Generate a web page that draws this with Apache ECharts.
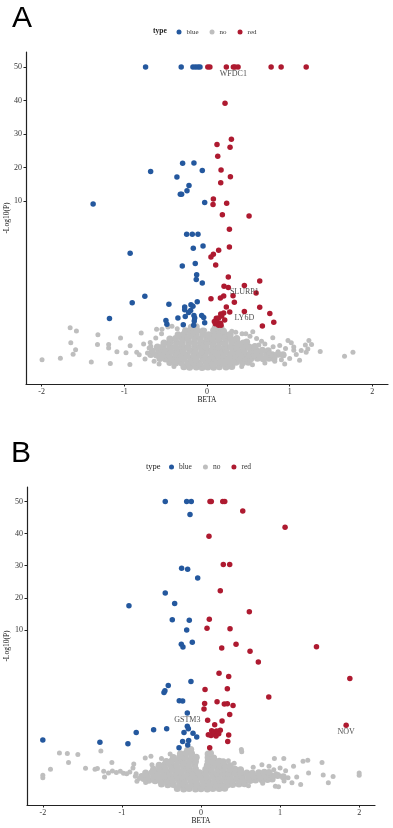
<!DOCTYPE html>
<html><head><meta charset="utf-8">
<script src="https://cdn.jsdelivr.net/npm/echarts@6/dist/echarts.min.js"></script>
<style>html,body{margin:0;padding:0;background:#fff}#c{width:393px;height:828px}</style>
</head><body><div id="c"></div>
<script>
// ---------- tick labels / categories ----------
const xTicks = [-2, -1, 0, 1, 2];
const yTicks = [10, 20, 30, 40, 50];          // -log10(P) tick labels
const legendNames = ['blue', 'no', 'red'];

// ---------- Panel A data: [BETA, -log10(P)] ----------
const aBlue = [[-0.743,50],[-0.312,50],[-0.17,50],[-0.14,50],[-0.11,50],[-0.085,50],
 [-0.295,21.3],[-0.158,21.4],[-0.682,18.9],[-0.057,19.2],[-0.364,17.2],[-0.218,14.7],[-0.242,13.1],
 [-0.323,12.1],[-0.307,12.1],[-0.028,9.92],[-1.378,9.84],[-0.246,8.03],[-0.178,8.03],[-0.109,8.03],
 [-0.166,7.2],[-0.048,7.33],[-0.93,6.9],[-0.299,6.14],[-0.142,6.28],[-0.125,5.62],[-0.13,5.33],
 [-0.057,5.12],[-0.752,4.33],[-0.905,3.95],[-1.18,3.01],[-0.461,3.85],[-0.27,3.69],[-0.27,3.53],
 [-0.194,3.83],[-0.17,3.73],[-0.118,4.01],[-0.352,3.03],[-0.263,3.13],[-0.158,3.19],[-0.149,3.03],
 [-0.064,3.18],[-0.04,3.07],[-0.497,2.88],[-0.485,2.67],[-0.287,2.64],[-0.161,2.6],[-0.154,2.85],
 [-0.028,2.76],[-0.222,3.37],[-0.198,3.49]];
const aRed = [[0.01,50],[0.035,50],[0.234,50],[0.319,50],[0.339,50],[0.376,50],[0.776,50],[0.897,50],[1.2,50],
 [0.218,39.2],[0.295,28.5],[0.121,26.9],[0.279,26.1],[0.13,23.4],[0.17,19.3],[0.283,17.3],[0.166,15.5],
 [0.077,10.7],[0.073,9.8],[0.238,9.88],[0.186,9.2],[0.509,9.12],[0.271,8.33],[0.271,7.27],[0.141,7.07],
 [0.077,6.84],[0.048,6.68],[0.105,6.2],[0.258,5.48],[0.206,4.93],[0.258,4.85],[0.452,4.97],[0.638,5.24],
 [0.315,4.37],[0.202,4.35],[0.162,4.23],[0.048,4.19],[0.331,3.97],[0.594,4.52],[0.234,3.69],[0.452,3.43],
 [0.638,3.67],[0.76,3.3],[0.67,2.56],[0.808,2.79],[0.166,3.27],[0.202,3.33],[0.113,3.02],[0.141,3.03],
 [0.178,3.15],[0.214,2.91],[0.089,2.82],[0.125,2.79],[0.101,2.7],[0.164,2.73],[0.275,3.39],[0.14,2.6],[0.17,2.6]];
const aNo = [[-1.996,0.55],[-1.774,0.63],[-1.656,2.46],[-1.58,2.26],[-1.648,1.56],[-1.59,1.15],[-1.62,0.87],
 [-1.32,2.04],[-1.325,1.46],[-1.19,1.46],[-1.19,1.24],[-1.09,1.03],[-1.4,0.41],[-1.17,0.33],[-1.046,1.84],
 [-0.93,1.38],[-0.933,0.27],[-0.796,2.14],[-0.767,1.48],[-0.687,1.58],[-0.98,0.97],[-0.85,0.99],[-0.82,0.85],
 [-0.75,0.59],[-0.61,2.36],[-0.545,2.36],[-0.473,2.5],[-0.424,2.54],
 [1.766,0.99],[1.664,0.75],[1.37,1.04],[1.233,1.7],[1.265,1.46],[1.19,1.42],[1.22,1.18],[1.2,1.0],
 [0.98,1.7],[1.02,1.56],[1.05,1.12],[0.796,1.86],[0.627,1.42],[0.94,0.29],[0.348,2.18],[0.424,2.1],
 [0.554,2.22],[0.47,2.1],
 [0.75,0.95],[0.82,0.72],[0.9,0.55],[0.86,1.02],[0.93,0.82],[1.0,0.62],[1.08,0.86],[1.12,0.52],[0.95,1.22],
 [0.8,1.32],[0.7,1.48],[0.88,1.4],[1.05,1.3],[1.14,1.1],[0.66,1.65],[0.6,1.82],[0.52,1.95],[-0.62,1.85],
 [-0.68,1.35],[-0.72,0.95],[-0.64,0.45],[-0.58,0.3],[-0.4,0.15],[0.42,0.15],[0.55,0.25],[0.7,0.35],
 [0.82,0.45],[-0.7,1.25],[-0.55,2.1],[-0.36,2.4],[0.3,2.25],[0.18,2.48],[-0.03,2.3]];
const aNoCore = [[-0.28,0.13],[-0.21,0.1],[-0.13,0.12],[-0.06,0.09],[0.01,0.11],[0.08,0.1],[0.15,0.13],[0.23,0.12],[0.3,0.15],
 [-0.45,0.38],[-0.38,0.35],[-0.31,0.37],[-0.23,0.34],[-0.16,0.36],[-0.09,0.33],[-0.01,0.37],[0.06,0.35],[0.13,0.38],[0.21,0.34],[0.28,0.36],[0.35,0.39],[0.43,0.37],[0.5,0.4],
 [-0.57,0.62],[-0.5,0.59],[-0.42,0.61],[-0.35,0.58],[-0.28,0.6],[-0.2,0.62],[-0.13,0.58],[-0.05,0.61],[0.02,0.59],[0.09,0.62],[0.17,0.6],[0.24,0.58],[0.31,0.61],[0.39,0.59],[0.46,0.62],[0.53,0.6],[0.61,0.63],[0.68,0.61],[0.75,0.64],[0.81,0.62],
 [-0.68,0.86],[-0.61,0.83],[-0.53,0.85],[-0.46,0.82],[-0.38,0.86],[-0.31,0.84],[-0.24,0.82],[-0.16,0.85],[-0.09,0.83],[-0.02,0.86],[0.06,0.84],[0.13,0.82],[0.2,0.85],[0.28,0.83],[0.35,0.86],[0.42,0.84],[0.5,0.82],[0.57,0.85],[0.64,0.83],[0.72,0.86],[0.79,0.84],[0.86,0.87],[0.92,0.85],
 [-0.66,1.07],[-0.58,1.1],[-0.51,1.08],[-0.44,1.06],[-0.36,1.09],[-0.29,1.07],[-0.21,1.1],[-0.14,1.08],[-0.06,1.06],[0.01,1.09],[0.08,1.07],[0.16,1.1],[0.23,1.08],[0.31,1.06],[0.38,1.09],[0.45,1.07],[0.53,1.1],[0.6,1.08],[0.67,1.11],[0.74,1.09],
 [-0.6,1.31],[-0.53,1.34],[-0.45,1.32],[-0.38,1.3],[-0.3,1.33],[-0.23,1.31],[-0.15,1.34],[-0.08,1.32],[-0.01,1.3],[0.07,1.33],[0.14,1.31],[0.22,1.34],[0.29,1.32],[0.36,1.3],[0.44,1.33],[0.51,1.31],[0.58,1.34],
 [-0.52,1.55],[-0.45,1.58],[-0.37,1.56],[-0.3,1.54],[-0.22,1.57],[-0.15,1.55],[-0.07,1.58],[0.0,1.56],[0.07,1.54],[0.15,1.57],[0.22,1.55],[0.3,1.58],[0.37,1.56],[0.44,1.54],[0.48,1.6],
 [-0.45,1.79],[-0.38,1.82],[-0.3,1.8],[-0.23,1.78],[-0.15,1.81],[-0.08,1.79],[0.0,1.82],[0.07,1.8],[0.14,1.78],[0.22,1.81],[0.29,1.79],[0.36,1.82],
 [-0.35,2.03],[-0.28,2.06],[-0.2,2.04],[-0.13,2.02],[-0.05,2.05],[0.02,2.03],[0.09,2.06],[0.16,2.04],[0.23,2.02],[0.28,2.05],
 [-0.26,2.27],[-0.19,2.3],[-0.12,2.28],[-0.05,2.26],[0.08,2.29],[0.15,2.27],[0.2,2.25],
 [-0.19,2.49],[-0.13,2.52],[0.1,2.45]];
const aGenes = [['WFDC1',0.319,50],['SLURP1',0.452,4.97],['LY6D',0.452,3.43]];

// ---------- Panel B data: [BETA, -log10(P)] ----------
const bBlue = [[-0.452,50],[-0.181,50],[-0.123,50],[-0.139,45.9],[-0.245,29.2],[-0.169,28.9],[-0.042,26.2],
 [-0.452,21.5],[-0.333,18.2],[-0.911,17.5],[-0.363,13.2],[-0.148,13.0],[-0.181,10.0],[-0.11,9.24],
 [-0.249,9.11],[-0.228,8.93],[-0.414,6.54],[-0.456,6.21],[-0.468,6.11],[-0.127,6.79],[-0.275,5.59],
 [-0.232,5.57],[-0.173,4.83],[-0.173,4.0],[-0.16,3.85],[-0.434,3.85],[-0.599,3.79],[-0.819,3.62],
 [-0.215,3.62],[-0.101,3.56],[-0.054,3.34],[-0.232,3.06],[-0.156,3.12],[-0.278,2.67],[-0.168,2.84],
 [-0.924,2.92],[-1.278,3.0],[-2.0,3.15]];
const bRed = [[0.114,50],[0.13,50],[0.275,50],[0.3,50],[0.528,47.0],[1.063,42.0],[0.101,39.2],[0.282,30.4],
 [0.363,30.4],[0.244,22.2],[0.611,15.7],[0.105,13.3],[0.076,10.5],[0.367,10.4],[0.262,8.88],[0.443,9.11],
 [0.62,8.68],[1.46,8.96],[0.725,8.01],[0.228,7.31],[0.35,7.1],[1.882,6.98],[0.857,5.82],[0.051,6.29],
 [0.333,6.34],[0.203,5.53],[0.295,5.39],[0.333,5.4],[0.405,5.3],[0.046,5.42],[0.038,5.08],[0.363,4.74],
 [0.084,4.37],[0.266,4.33],[0.173,4.1],[0.135,3.73],[0.165,3.65],[0.198,3.71],[0.244,3.75],[0.093,3.48],
 [0.127,3.42],[0.16,3.52],[0.19,3.4],[0.224,3.54],[0.35,3.46],[0.338,3.06],[0.11,2.67],[1.835,4.06]];
const bNo = [[-2.0,0.95],[-2.0,0.79],[-1.903,1.32],[-1.79,2.34],[-1.69,2.3],[-1.557,2.24],[-1.675,1.74],
 [-1.46,1.39],[-1.34,1.32],[-1.31,1.37],[-1.266,2.47],[-1.127,1.74],[-1.22,0.85],[-1.23,1.2],[-1.17,1.1],
 [-1.12,1.22],[-1.07,1.12],[-1.02,1.2],[-0.98,1.08],[-0.85,1.66],[-0.86,1.41],[-0.94,1.04],[-0.83,0.89],
 [-0.81,0.58],[-0.73,0.68],[-0.705,2.03],[-0.633,2.13],[-0.5,2.0],[-0.39,2.28],[-0.9,1.15],[-0.82,1.05],
 [-0.78,0.75],[-0.7,0.5],
 [0.51,2.55],[0.515,2.42],[0.346,1.86],[0.928,1.99],[1.047,1.99],[1.29,1.82],[1.35,1.88],[1.53,1.74],
 [2.0,1.1],[2.0,0.95],[1.67,0.87],[1.545,0.97],[1.61,0.48],[1.36,1.1],[1.21,0.85],[1.26,0.37],[1.15,0.48],
 [0.94,0.27],[0.98,0.23],[0.77,1.61],[0.86,1.51],[0.92,1.3],[1.0,1.41],[1.07,1.24],[1.17,1.51],
 [0.95,1.05],[1.1,0.8],[1.05,0.6],[0.78,0.45],[0.6,0.3],[0.66,1.45],[0.42,1.7],[-0.62,1.6]];
const bNoCore = [[-0.3,0.13],[-0.22,0.1],[-0.15,0.12],[-0.07,0.09],[0.0,0.11],[0.08,0.1],[0.15,0.13],[0.23,0.12],[0.3,0.14],
 [-0.5,0.4],[-0.42,0.36],[-0.35,0.38],[-0.27,0.35],[-0.2,0.37],[-0.12,0.34],[-0.05,0.38],[0.03,0.36],[0.1,0.39],[0.18,0.35],[0.25,0.37],[0.33,0.34],[0.4,0.38],[0.48,0.4],[0.55,0.42],
 [-0.66,0.64],[-0.58,0.61],[-0.51,0.63],[-0.43,0.6],[-0.36,0.62],[-0.28,0.64],[-0.21,0.6],[-0.13,0.63],[-0.06,0.61],[0.02,0.64],[0.09,0.62],[0.17,0.6],[0.24,0.63],[0.32,0.61],[0.39,0.64],[0.47,0.62],[0.54,0.6],[0.62,0.63],[0.69,0.65],[0.77,0.67],[0.84,0.69],[0.9,0.72],
 [-0.75,0.88],[-0.68,0.85],[-0.6,0.87],[-0.53,0.84],[-0.45,0.88],[-0.38,0.86],[-0.3,0.84],[-0.23,0.87],[-0.15,0.85],[-0.08,0.88],[0.0,0.86],[0.07,0.84],[0.15,0.87],[0.22,0.85],[0.3,0.88],[0.37,0.86],[0.45,0.84],[0.52,0.87],[0.6,0.85],[0.67,0.88],[0.75,0.86],[0.82,0.89],[0.9,0.9],[0.97,0.93],[1.04,0.86],
 [-0.7,1.09],[-0.62,1.12],[-0.55,1.1],[-0.47,1.08],[-0.4,1.11],[-0.32,1.09],[-0.25,1.12],[-0.17,1.1],[-0.1,1.08],[-0.02,1.11],[0.05,1.09],[0.13,1.12],[0.2,1.1],[0.28,1.08],[0.35,1.11],[0.43,1.09],[0.5,1.12],[0.58,1.1],[0.65,1.08],[0.73,1.11],[0.8,1.14],[0.86,1.12],
 [-0.6,1.33],[-0.52,1.36],[-0.45,1.34],[-0.37,1.32],[-0.3,1.35],[-0.22,1.33],[-0.15,1.36],[-0.07,1.34],[0.06,1.33],[0.13,1.36],[0.21,1.34],[0.28,1.32],[0.36,1.35],[0.43,1.33],[0.5,1.3],
 [-0.53,1.57],[-0.46,1.6],[-0.38,1.58],[-0.31,1.56],[-0.23,1.59],[-0.16,1.57],[-0.08,1.6],[0.08,1.58],[0.15,1.56],[0.23,1.59],[0.3,1.57],[0.37,1.55],
 [-0.44,1.81],[-0.37,1.84],[-0.29,1.82],[-0.22,1.8],[-0.14,1.83],[-0.07,1.81],[0.09,1.82],[0.16,1.8],[0.23,1.83],[0.28,1.79],
 [-0.35,2.05],[-0.27,2.08],[-0.2,2.06],[-0.12,2.04],[-0.06,2.07],[0.09,2.05],[0.16,2.03],
 [-0.26,2.29],[-0.19,2.32],[-0.12,2.3],[0.09,2.28],[0.12,2.32],
 [-0.17,2.51],[-0.13,2.55]];
const bGenes = [['GSTM3',-0.173,4.83],['NOV',1.835,4.06]];

// ---------- broken -log10(P) scale: 0-10 stretched 5x, linear above ----------
function scaleY(v) { return v <= 10 ? v * 5 : v + 40; }
function unscaleY(t) { return t <= 50 ? t / 5 : t - 40; }
function pts(arr) { return arr.map(p => [p[0], scaleY(p[1])]); }

const SERIF = "'Liberation Serif','DejaVu Serif',serif";
const C_BLUE = '#24589E', C_RED = '#AE1A30', C_GREY = '#BEBEBE';
const yTickPos = yTicks.map(scaleY);

function xAxisCfg(idx, lim) {
  return {
    type: 'value', gridIndex: idx, min: -lim, max: lim,
    name: 'BETA', nameLocation: 'middle', nameGap: 12, nameMoveOverlap: false,
    nameTextStyle: { fontFamily: SERIF, fontSize: 7.5, color: '#111' },
    axisLine: { onZero: false, lineStyle: { color: '#222', width: 1.2 } },
    axisTick: { show: true, length: 2.5, customValues: xTicks, lineStyle: { color: '#222', width: 1 } },
    axisLabel: { customValues: xTicks, margin: 4, fontFamily: SERIF, fontSize: 8, color: '#333' },
    splitLine: { show: false }
  };
}
function yAxisCfg(idx, gap) {
  return {
    type: 'value', gridIndex: idx, min: -4.5, max: 94.5,
    name: '-Log10(P)', nameLocation: 'middle', nameGap: gap, nameMoveOverlap: false,
    nameTextStyle: { fontFamily: SERIF, fontSize: 7.5, color: '#111' },
    axisLine: { show: true, onZero: false, lineStyle: { color: '#222', width: 1.2 } },
    axisTick: { show: true, length: 2.5, customValues: yTickPos, lineStyle: { color: '#222', width: 1 } },
    axisLabel: { customValues: yTickPos, margin: 4, fontFamily: SERIF, fontSize: 8, color: '#333',
                 formatter: v => String(Math.round(unscaleY(v))) },
    splitLine: { show: false }
  };
}
function scatter(name, data, idx, color, size) {
  return { type: 'scatter', name: name, xAxisIndex: idx, yAxisIndex: idx, data: pts(data),
           symbolSize: size, itemStyle: { color: color, opacity: 1 }, silent: true };
}
function geneSeries(genes, idx) {
  return { type: 'scatter', xAxisIndex: idx, yAxisIndex: idx, symbolSize: 1, silent: true,
    itemStyle: { color: 'rgba(0,0,0,0)' },
    data: genes.map(g => ({ name: g[0], value: [g[1], scaleY(g[2])] })),
    label: { show: true, position: 'inside', offset: [0, 6.5], formatter: '{b}',
             fontFamily: SERIF, fontSize: 8, color: '#222' } };
}
function legendCfg(left, top, fs) {
  return { left: left, top: top, padding: 0, itemWidth: 5, itemHeight: 5, itemGap: 11, icon: 'circle',
           selectedMode: false, data: legendNames,
           textStyle: { fontFamily: SERIF, fontSize: fs, color: '#333' } };
}

const chart = echarts.init(document.getElementById('c'), null, { renderer: 'canvas' });
chart.setOption({
  animation: false,
  backgroundColor: '#fff',
  grid: [
    { left: 26, top: 52, width: 362, height: 332, containLabel: false, outerBoundsMode: 'none' },
    { left: 27, top: 487, width: 348, height: 318, containLabel: false, outerBoundsMode: 'none' }
  ],
  xAxis: [xAxisCfg(0, 2.19), xAxisCfg(1, 2.2)],
  yAxis: [yAxisCfg(0, 15), yAxisCfg(1, 16)],
  legend: [legendCfg(176.5, 28.5, 7), legendCfg(169, 463, 7.5)],
  graphic: [
    { type: 'text', left: 12, top: 4, style: { text: 'A', fontFamily: "'Liberation Sans',Arial,sans-serif", fontSize: 30, fill: '#000' } },
    { type: 'text', left: 11, top: 439, style: { text: 'B', fontFamily: "'Liberation Sans',Arial,sans-serif", fontSize: 30, fill: '#000' } },
    { type: 'text', left: 153, top: 27.5, style: { text: 'type', fontFamily: SERIF, fontWeight: 'bold', fontSize: 7.5, fill: '#222' } },
    { type: 'text', left: 146, top: 462, style: { text: 'type', fontFamily: SERIF, fontSize: 8.5, fill: '#222' } }
  ],
  series: [
    scatter('no', aNoCore, 0, C_GREY, 7),
    scatter('no', aNo, 0, C_GREY, 5),
    scatter('blue', aBlue, 0, C_BLUE, 5.5),
    scatter('red', aRed, 0, C_RED, 5.5),
    geneSeries(aGenes, 0),
    scatter('no', bNoCore, 1, C_GREY, 7),
    scatter('no', bNo, 1, C_GREY, 5),
    scatter('blue', bBlue, 1, C_BLUE, 5.5),
    scatter('red', bRed, 1, C_RED, 5.5),
    geneSeries(bGenes, 1)
  ]
});
</script>
</body></html>
